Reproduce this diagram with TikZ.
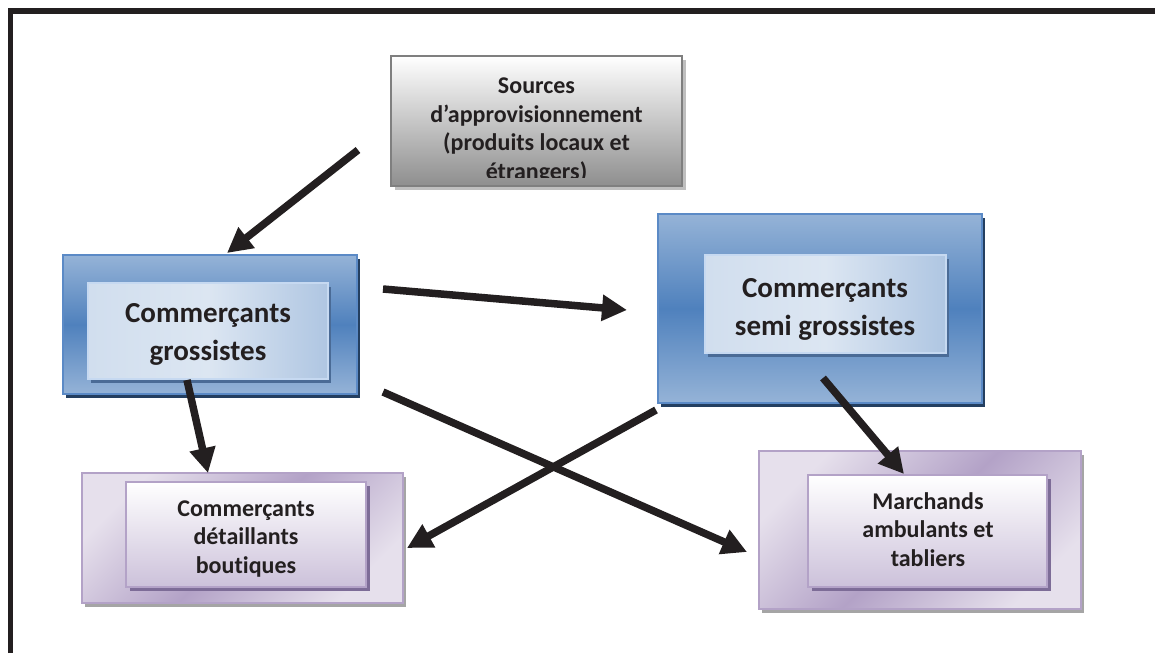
\documentclass[tikz,border=0pt]{standalone}
\usepackage{fontspec}
\setmainfont{Carlito}[Ligatures=NoCommon]
\usetikzlibrary{arrows.meta,shadows}
\definecolor{txtc}{HTML}{231F20}
\definecolor{bluelt}{HTML}{95B3D7}
\definecolor{bluemid}{HTML}{4F81BD}
\definecolor{bluebd}{HTML}{5B8AC6}
\definecolor{navysh}{HTML}{243F60}
\definecolor{innlt}{HTML}{DCE6F2}
\definecolor{inndk}{HTML}{AFC6E2}
\definecolor{innbd}{HTML}{C6D9F1}
\definecolor{innsh}{HTML}{4A6B96}
\definecolor{purlt}{HTML}{E6E0EC}
\definecolor{purdk}{HTML}{B3A2C7}
\definecolor{purin}{HTML}{CCC1DA}
\definecolor{purbd}{HTML}{B3A2C7}
\definecolor{pursh}{HTML}{7D6C97}
\definecolor{graysh}{HTML}{A5A5A5}
\definecolor{srcbot}{HTML}{8E8E8E}
\definecolor{srcbd}{HTML}{7F7F7F}
\definecolor{srcsh}{HTML}{BFBFBF}
\begin{document}
\begin{tikzpicture}[x=1pt,y=-1pt,
  outerblue/.style={rectangle, draw=bluebd, line width=1.5pt, inner sep=0pt,
    top color=bluelt, bottom color=bluelt, middle color=bluemid,
    drop shadow={shadow xshift=3pt, shadow yshift=-4pt, fill=navysh, opacity=1}},
  innerblue/.style={rectangle, draw=innbd, line width=1.5pt, inner sep=0pt,
    left color=innlt!75!inndk, right color=inndk, middle color=innlt,
    drop shadow={shadow xshift=3pt, shadow yshift=-4pt, fill=innsh, opacity=1}},
  outerpurple/.style={rectangle, draw=purbd, line width=1.2pt, inner sep=0pt,
    top color=purlt, bottom color=purlt, middle color=purdk, shading angle=45,
    drop shadow={shadow xshift=3pt, shadow yshift=-4pt, fill=graysh, opacity=1}},
  innerpurple/.style={rectangle, draw=purbd, line width=1.5pt, inner sep=0pt,
    top color=white, bottom color=purin,
    drop shadow={shadow xshift=4pt, shadow yshift=-4pt, fill=pursh, opacity=1}},
  srcbox/.style={rectangle, draw=srcbd, line width=2pt, inner sep=0pt,
    top color=white, bottom color=srcbot,
    drop shadow={shadow xshift=4pt, shadow yshift=-4pt, fill=srcsh, opacity=1}},
  bigtxt/.style={text=txtc, align=center, inner sep=0pt, anchor=base,
    font=\fontsize{29}{38}\selectfont\bfseries},
  smalltxt/.style={text=txtc, align=center, inner sep=0pt, anchor=base,
    font=\fontsize{24}{28.5}\selectfont\bfseries},
  flow/.style={line width=7.5pt, -{Triangle[length=25pt,width=25pt]}, txtc}
]
\useasboundingbox (0,0) rectangle (1155,653);
% frame
\draw[line width=5.5pt, txtc] (10.5,653) -- (10.5,10.8) -- (1155,10.8);

% sources
\node[srcbox, minimum width=291pt, minimum height=130pt] (src) at (536.5,121) {};
\begin{scope}
\clip (393,58) rectangle (680,177);
\node[smalltxt] (srctxt) at (536.5,179)
  {Sources\\d’approvisionnement\\(produits locaux et\\étrangers)};
\end{scope}

% grossistes
\node[outerblue, minimum width=294pt, minimum height=139pt] (gro) at (210,324.5) {};
\node[innerblue, minimum width=240pt, minimum height=96pt] (groin) at (208,331) {};
\node[bigtxt] (grotxt) at (208,360) {Commerçants\\grossistes};

% semi grossistes
\node[outerblue, minimum width=324pt, minimum height=189pt] (semi) at (820,308.5) {};
\node[innerblue, minimum width=241pt, minimum height=98pt] (semiin) at (825.5,304) {};
\node[bigtxt] (semitxt) at (825,335) {Commerçants\\semi grossistes};

% detaillants
\node[outerpurple, minimum width=321pt, minimum height=130pt] (det) at (242.5,538) {};
\node[innerpurple, minimum width=240pt, minimum height=105pt] (detin) at (246,534.5) {};
\node[smalltxt] (dettxt) at (246,573) {Commerçants\\détaillants\\boutiques};

% marchands
\node[outerpurple, minimum width=322pt, minimum height=158pt] (mar) at (920,530) {};
\node[innerpurple, minimum width=239pt, minimum height=112pt] (marin) at (927.5,531) {};
\node[smalltxt] (martxt) at (928,566) {Marchands\\ambulants et\\tabliers};

% arrow end points
\coordinate (a1s) at (358,150);  \coordinate (a1e) at (227,253);
\coordinate (a2s) at (383,289);  \coordinate (a2e) at (627,310);
\coordinate (a3s) at (383,392);  \coordinate (a3e) at (747,552);
\coordinate (a4s) at (656,410);  \coordinate (a4e) at (407,548);
\coordinate (a5s) at (187,380);  \coordinate (a5e) at (208,473);
\coordinate (a6s) at (823,378);  \coordinate (a6e) at (904,474);

\draw[flow] (a1s) -- (a1e);
\draw[flow] (a2s) -- (a2e);
\draw[flow] (a3s) -- (a3e);
\draw[flow] (a4s) -- (a4e);
\draw[flow] (a5s) -- (a5e);
\draw[flow] (a6s) -- (a6e);
\end{tikzpicture}
\end{document}
